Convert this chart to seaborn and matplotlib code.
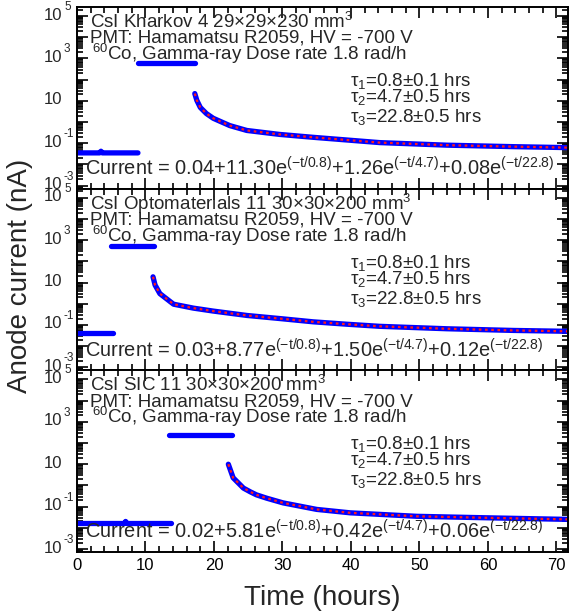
import numpy as np
import pandas as pd
import matplotlib
matplotlib.use("Agg")
import matplotlib.pyplot as plt
import seaborn as sns
from matplotlib.ticker import LogLocator, MultipleLocator, NullFormatter

# ---------------- data ----------------
# Panel 1: CsI Kharkov 4
t_base_1 = [0.0, 3.3, 3.5, 3.7, 8.9]
i_base_1 = [0.035, 0.035, 0.042, 0.035, 0.035]
t_irr_1 = [8.9, 17.2]
i_irr_1 = [590, 590]
t_dec_1 = [17.2, 17.5, 18.0, 18.3, 18.9, 19.9, 22.3, 24.8, 29.6, 34.5, 44.2, 54.0, 63.7, 71.7]
i_dec_1 = [22, 10.5, 4.9, 3.9, 2.5, 1.5, 0.68, 0.40, 0.26, 0.19, 0.107, 0.081, 0.069, 0.062]

# Panel 2: CsI Optomaterials 11
t_base_2 = [0.0, 5.2]
i_base_2 = [0.040, 0.040]
t_irr_2 = [4.9, 11.3]
i_irr_2 = [530, 530]
t_dec_2 = [11.1, 11.4, 12.1, 14.1, 17.0, 19.9, 24.8, 29.6, 34.5, 39.4, 44.2, 54.0, 63.7, 71.7]
i_dec_2 = [18.6, 7.6, 3.0, 0.95, 0.62, 0.45, 0.28, 0.20, 0.14, 0.108, 0.086, 0.066, 0.055, 0.050]

# Panel 3: CsI SIC 11
t_base_3 = [0.0, 6.9, 7.1, 7.3, 13.8]
i_base_3 = [0.016, 0.016, 0.020, 0.016, 0.016]
t_irr_3 = [13.5, 22.6]
i_irr_3 = [240, 240]
t_dec_3 = [22.1, 22.8, 24.3, 25.3, 26.2, 27.7, 30.1, 35.0, 39.9, 49.6, 59.3, 71.7]
i_dec_3 = [10, 2.3, 0.75, 0.5, 0.36, 0.25, 0.15, 0.074, 0.051, 0.035, 0.030, 0.025]

# labelled decades of the y axis (10^e)
y_label_exps = [-3, -1, 1, 3, 5]

titles = ["CsI Kharkov 4 29\u00d729\u00d7230 mm$^{3}$",
          "CsI Optomaterials 11 30\u00d730\u00d7200 mm$^{3}$",
          "CsI SIC 11 30\u00d730\u00d7200 mm$^{3}$"]
pmt_text = "PMT: Hamamatsu R2059, HV = -700 V"
src_text = "$^{60}$Co, Gamma-ray Dose rate 1.8 rad/h"
tau_texts = ["\u03c4$_{1}$=0.8\u00b10.1 hrs", "\u03c4$_{2}$=4.7\u00b10.5 hrs", "\u03c4$_{3}$=22.8\u00b10.5 hrs"]
fit_texts = [
    "Current = 0.04+11.30e$^{(-t/0.8)}$+1.26e$^{(-t/4.7)}$+0.08e$^{(-t/22.8)}$",
    "Current = 0.03+8.77e$^{(-t/0.8)}$+1.50e$^{(-t/4.7)}$+0.12e$^{(-t/22.8)}$",
    "Current = 0.02+5.81e$^{(-t/0.8)}$+0.42e$^{(-t/4.7)}$+0.06e$^{(-t/22.8)}$",
]
x_label = "Time (hours)"
y_label = "Anode current (nA)"

panels = [
    (t_base_1, i_base_1, t_irr_1, i_irr_1, t_dec_1, i_dec_1),
    (t_base_2, i_base_2, t_irr_2, i_irr_2, t_dec_2, i_dec_2),
    (t_base_3, i_base_3, t_irr_3, i_irr_3, t_dec_3, i_dec_3),
]

# ---------------- style ----------------
sns.set_style("ticks")
plt.rcParams["font.family"] = ["Liberation Sans", "DejaVu Sans"]
plt.rcParams["mathtext.default"] = "regular"
plt.rcParams["mathtext.fontset"] = "custom"
plt.rcParams["mathtext.rm"] = "Liberation Sans"

W, H = 569, 616
fig = plt.figure(figsize=(W / 100, H / 100), dpi=100)

left = 77 / W
width = (568 - 77) / W
ph = 181.7 / H
bottom0 = 1 - 552 / H
PX = 72 / 100  # points per pixel

axes = []
for k, (tb, ib, ti, ii, td, idc) in enumerate(panels):
    ax = fig.add_axes([left, bottom0 + (2 - k) * ph, width, ph])
    axes.append(ax)
    ax.set_yscale("log")
    blue = "#0000ff"
    for tt, vv in ((tb, ib), (ti, ii), (td, idc)):
        df = pd.DataFrame({"t": tt, "i": vv})
        sns.lineplot(data=df, x="t", y="i", ax=ax, color=blue, lw=3.8,
                     estimator=None, sort=False, solid_capstyle="round")
    dfd = pd.DataFrame({"t": td, "i": idc})
    sns.lineplot(data=dfd, x="t", y="i", ax=ax, color="#ff1a1a", lw=1.6,
                 estimator=None, sort=False, linestyle=(0, (1.2, 1.6)))
    ax.set_xlim(0, 71.7)
    ax.set_ylim(10 ** -3.14, 10 ** 5.43)
    ax.yaxis.set_major_locator(LogLocator(base=10, numticks=20))
    ax.yaxis.set_minor_locator(LogLocator(base=10, subs=np.arange(2, 10), numticks=20))
    ax.yaxis.set_major_formatter(NullFormatter())
    ax.yaxis.set_minor_formatter(NullFormatter())
    ax.xaxis.set_major_locator(MultipleLocator(10))
    ax.xaxis.set_minor_locator(MultipleLocator(2))
    ax.tick_params(which="both", direction="in", top=True, right=True, width=1.2,
                   colors="black", labelsize=12)
    ax.tick_params(which="major", length=8, pad=4)
    ax.tick_params(which="minor", length=4)
    for s in ax.spines.values():
        s.set_linewidth(1.4)
        s.set_color("black")
    ax.set_xlabel("")
    ax.set_ylabel("")
    if k < 2:
        ax.tick_params(labelbottom=False)

    # Origin-style y tick labels: "10" at the tick, exponent raised after it
    for e in y_label_exps:
        yv = 10.0 ** e
        ax.annotate("10", xy=(0, yv), xycoords=("axes fraction", "data"),
                    xytext=(-15 * PX, 1 * PX), textcoords="offset points",
                    ha="right", va="center", fontsize=12)
        if e != 1:
            ax.annotate(str(e), xy=(0, yv), xycoords=("axes fraction", "data"),
                        xytext=(-13 * PX, 9 * PX), textcoords="offset points",
                        ha="left", va="center", fontsize=8.5)

    tr = ax.transAxes
    x0 = (90 - 77) / 491
    ax.text(x0, 0.884, titles[k], transform=tr, fontsize=13.5, va="baseline", ha="left")
    ax.text(x0, 0.802, pmt_text, transform=tr, fontsize=13.5, va="baseline", ha="left")
    ax.text(x0 + 0.004, 0.708, src_text, transform=tr, fontsize=13.5, va="baseline", ha="left")
    xt = (350 - 77) / 491
    for j, yy in enumerate([0.565, 0.477, 0.367]):
        ax.text(xt, yy, tau_texts[j], transform=tr, fontsize=13.5, va="baseline", ha="left")
    ax.text((85 - 77) / 491, 0.072, fit_texts[k], transform=tr, fontsize=14.4,
            va="baseline", ha="left")

axes[-1].tick_params(labelbottom=True, labelsize=12)
fig.text((77 + 568) / 2 / W, 11 / H, x_label, fontsize=20, ha="center", va="baseline")
fig.text(20 / W, 1 - 276 / H, y_label, fontsize=20, ha="center", va="center", rotation=90)

fig.savefig("out.png", dpi=100)
